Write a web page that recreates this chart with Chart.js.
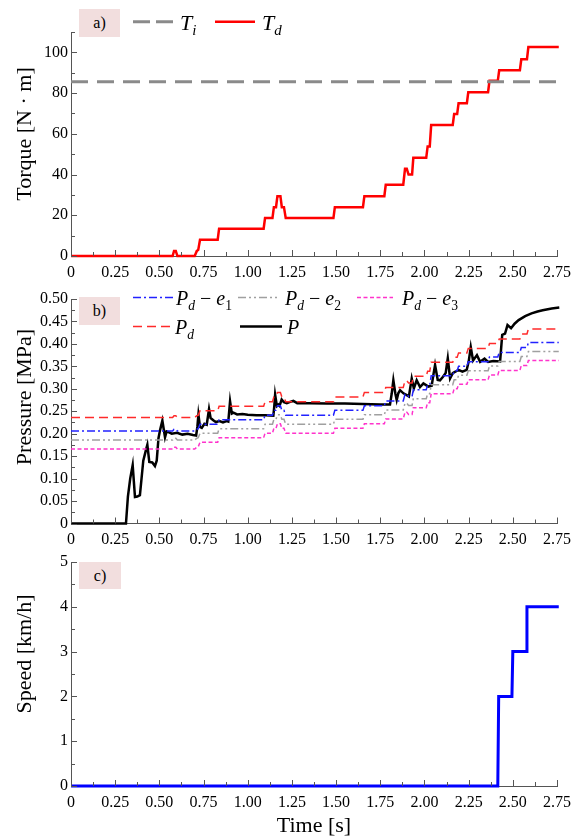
<!DOCTYPE html>
<html>
<head>
<meta charset="utf-8">
<script src="https://cdn.jsdelivr.net/npm/chart.js@4.4.0/dist/chart.umd.min.js"></script>
<style>
  body { margin: 0; background: #fff; }
  #page { position: relative; width: 579px; height: 840px; overflow: hidden; font-family: "Liberation Serif", "Times New Roman", serif; color: #000; }
  canvas { position: absolute; left: 0; }
  .tag { position: absolute; background: #f2dede; font-size: 16px; text-align: center; }
  .ytitle { position: absolute; font-size: 22px; white-space: nowrap; transform: translate(-50%, -50%) rotate(-90deg); }
  .leg { position: absolute; white-space: nowrap; line-height: 1; }
  .leg sub { font-size: 0.68em; vertical-align: -0.35em; line-height: 0; }
  #legsvg { position: absolute; left: 0; top: 0; }
</style>
</head>
<body>
<div id="page">
  <canvas id="chartA" width="579" height="292" style="top:0px"></canvas>
  <canvas id="chartB" width="579" height="265" style="top:285px"></canvas>
  <canvas id="chartC" width="579" height="292" style="top:548px"></canvas>

  <svg id="legsvg" width="579" height="840">
    <line x1="133" y1="21.7" x2="173" y2="21.7" stroke="#8a8a8a" stroke-width="3" stroke-dasharray="17,6"/>
    <line x1="215" y1="21.7" x2="255" y2="21.7" stroke="#ff0000" stroke-width="2.5"/>
    <line x1="133" y1="297.5" x2="176" y2="297.5" stroke="#2222ff" stroke-width="1.5" stroke-dasharray="8,3,2,3"/>
    <line x1="238" y1="297.5" x2="280" y2="297.5" stroke="#a0a0a0" stroke-width="1.5" stroke-dasharray="8,3,2,3,2,3"/>
    <line x1="357" y1="297.5" x2="393" y2="297.5" stroke="#ff33cc" stroke-width="1.5" stroke-dasharray="4,2.5"/>
    <line x1="133" y1="326.5" x2="173" y2="326.5" stroke="#ff2a2a" stroke-width="1.5" stroke-dasharray="9,5"/>
    <line x1="240" y1="326.5" x2="282" y2="326.5" stroke="#000000" stroke-width="2.5"/>
  </svg>

  <div class="tag" style="left:79px;top:9px;width:41px;height:28px;line-height:28px">a)</div>
  <div class="tag" style="left:79px;top:297px;width:41px;height:28px;line-height:28px">b)</div>
  <div class="tag" style="left:79px;top:562px;width:42px;height:27px;line-height:27px">c)</div>

  <div class="leg" style="left:180px;top:11.6px;font-size:22px"><i>T</i><sub><i>i</i></sub></div>
  <div class="leg" style="left:262px;top:11.6px;font-size:22px"><i>T</i><sub><i>d</i></sub></div>

  <div class="leg" style="left:176px;top:288.3px;font-size:20px"><i>P</i><sub><i>d</i></sub> &minus; <i>e</i><sub>1</sub></div>
  <div class="leg" style="left:285px;top:288.3px;font-size:20px"><i>P</i><sub><i>d</i></sub> &minus; <i>e</i><sub>2</sub></div>
  <div class="leg" style="left:402px;top:288.3px;font-size:20px"><i>P</i><sub><i>d</i></sub> &minus; <i>e</i><sub>3</sub></div>
  <div class="leg" style="left:175px;top:316.8px;font-size:20px"><i>P</i><sub><i>d</i></sub></div>
  <div class="leg" style="left:287px;top:316.8px;font-size:20px"><i>P</i></div>

  <div class="ytitle" style="left:24px;top:134px">Torque [N · m]</div>
  <div class="ytitle" style="left:24px;top:397px">Pressure [MPa]</div>
  <div class="ytitle" style="left:24px;top:654px">Speed [km/h]</div>
</div>

<script>
// a) torque
var tiTime = [0, 2.76];
var tiValue = [85.6, 85.6];

var stepTime = [0, 0.575, 0.583, 0.593, 0.602, 0.70, 0.712, 0.72, 0.73, 0.83, 0.838, 1.09, 1.098, 1.14, 1.148,
  1.16, 1.168, 1.185, 1.193, 1.205, 1.215, 1.485, 1.493, 1.652, 1.66, 1.773, 1.781, 1.88, 1.89, 1.90, 1.91,
  1.93, 1.937, 2.01, 2.018, 2.03, 2.038, 2.16, 2.168, 2.185, 2.193, 2.24, 2.248, 2.36, 2.368, 2.415, 2.423,
  2.54, 2.548, 2.58, 2.588, 2.76];
var tdValue = [0, 0, 2.5, 2.5, 0, 0, 2.5, 3, 8, 8, 13.4, 13.4, 18.6, 18.6, 24, 24, 29.4, 29.4, 24, 24, 18.6,
  18.6, 24, 24, 29.4, 29.4, 35, 35, 42.8, 42.8, 40, 40, 48.2, 48.2, 53.8, 53.8, 64.3, 64.3, 69.7, 69.7, 75,
  75, 80.4, 80.4, 86, 86, 91.2, 91.2, 96.6, 96.6, 102.6, 102.6];

// b) pressure
var pdValue = [0.236, 0.236, 0.240, 0.240, 0.236, 0.236, 0.240, 0.241, 0.251, 0.251, 0.261, 0.261, 0.271,
  0.271, 0.282, 0.282, 0.292, 0.292, 0.282, 0.282, 0.271, 0.271, 0.282, 0.282, 0.292, 0.292, 0.303, 0.303,
  0.318, 0.318, 0.313, 0.313, 0.328, 0.328, 0.339, 0.339, 0.359, 0.359, 0.370, 0.370, 0.380, 0.380, 0.390,
  0.390, 0.401, 0.401, 0.411, 0.411, 0.422, 0.422, 0.433, 0.433];
var pdE1Value = [0.206, 0.206, 0.210, 0.210, 0.206, 0.206, 0.210, 0.211, 0.221, 0.221, 0.231, 0.231, 0.241,
  0.241, 0.252, 0.252, 0.262, 0.262, 0.252, 0.252, 0.241, 0.241, 0.252, 0.252, 0.262, 0.262, 0.273, 0.273,
  0.288, 0.288, 0.283, 0.283, 0.298, 0.298, 0.309, 0.309, 0.329, 0.329, 0.340, 0.340, 0.350, 0.350, 0.360,
  0.360, 0.371, 0.371, 0.381, 0.381, 0.392, 0.392, 0.403, 0.403];
var pdE2Value = [0.186, 0.186, 0.190, 0.190, 0.186, 0.186, 0.190, 0.191, 0.201, 0.201, 0.211, 0.211, 0.221,
  0.221, 0.232, 0.232, 0.242, 0.242, 0.232, 0.232, 0.221, 0.221, 0.232, 0.232, 0.242, 0.242, 0.253, 0.253,
  0.268, 0.268, 0.263, 0.263, 0.278, 0.278, 0.289, 0.289, 0.309, 0.309, 0.320, 0.320, 0.330, 0.330, 0.340,
  0.340, 0.351, 0.351, 0.361, 0.361, 0.372, 0.372, 0.383, 0.383];
var pdE3Value = [0.166, 0.166, 0.170, 0.170, 0.166, 0.166, 0.170, 0.171, 0.181, 0.181, 0.191, 0.191, 0.201,
  0.201, 0.212, 0.212, 0.222, 0.222, 0.212, 0.212, 0.201, 0.201, 0.212, 0.212, 0.222, 0.222, 0.233, 0.233,
  0.248, 0.248, 0.243, 0.243, 0.258, 0.258, 0.269, 0.269, 0.289, 0.289, 0.300, 0.300, 0.310, 0.310, 0.320,
  0.320, 0.331, 0.331, 0.341, 0.341, 0.352, 0.352, 0.363, 0.363];

var pTime = [0, 0.311, 0.322, 0.335, 0.349, 0.362, 0.375, 0.39, 0.409, 0.425, 0.432, 0.443, 0.46, 0.475,
  0.485, 0.495, 0.504, 0.517, 0.532, 0.541, 0.555, 0.57, 0.6, 0.63, 0.66, 0.69, 0.708, 0.715, 0.721, 0.73,
  0.74, 0.755, 0.768, 0.781, 0.79, 0.805, 0.82, 0.84, 0.86, 0.88, 0.89, 0.9, 0.91, 0.919, 0.94, 0.97, 1.0,
  1.05, 1.1, 1.145, 1.15, 1.155, 1.165, 1.173, 1.18, 1.192, 1.205, 1.221, 1.24, 1.258, 1.28, 1.35, 1.45,
  1.55, 1.65, 1.75, 1.805, 1.815, 1.824, 1.835, 1.843, 1.852, 1.862, 1.881, 1.9, 1.912, 1.928, 1.94, 1.956,
  1.975, 1.994, 2.022, 2.041, 2.05, 2.06, 2.075, 2.088, 2.105, 2.12, 2.132, 2.145, 2.16, 2.175, 2.192,
  2.215, 2.239, 2.25, 2.262, 2.275, 2.297, 2.315, 2.34, 2.36, 2.39, 2.428, 2.44, 2.456, 2.47, 2.49, 2.51,
  2.533, 2.57, 2.606, 2.64, 2.669, 2.72, 2.763];
var pValue = [0, 0, 0.06, 0.10, 0.130, 0.059, 0.060, 0.063, 0.14, 0.165, 0.175, 0.137, 0.136, 0.128,
  0.14, 0.19, 0.208, 0.229, 0.192, 0.205, 0.203, 0.20, 0.202, 0.198, 0.20, 0.197, 0.196, 0.215, 0.242,
  0.215, 0.213, 0.222, 0.220, 0.255, 0.235, 0.230, 0.226, 0.228, 0.225, 0.228, 0.227, 0.272, 0.245, 0.247,
  0.243, 0.244, 0.242, 0.241, 0.241, 0.240, 0.26, 0.287, 0.262, 0.265, 0.262, 0.276, 0.27, 0.268, 0.271,
  0.273, 0.268, 0.268, 0.267, 0.267, 0.266, 0.265, 0.265, 0.29, 0.319, 0.29, 0.275, 0.29, 0.297, 0.29,
  0.286, 0.283, 0.323, 0.301, 0.319, 0.304, 0.312, 0.305, 0.307, 0.33, 0.353, 0.32, 0.319, 0.327, 0.335,
  0.368, 0.323, 0.335, 0.338, 0.342, 0.338, 0.342, 0.36, 0.393, 0.363, 0.375, 0.36, 0.367, 0.36, 0.362,
  0.361, 0.42, 0.423, 0.442, 0.435, 0.445, 0.453, 0.462, 0.468, 0.472, 0.475, 0.479, 0.481];

// c) speed
var speedTime = [0, 2.415, 2.42, 2.495, 2.50, 2.575, 2.58, 2.76];
var speedValue = [0, 0, 2, 2, 3, 3, 4, 4];

var FONT = '"Liberation Serif", "Times New Roman", serif';
var AXIS = '#555555';

function pts(xs, ys) {
  var out = [];
  for (var i = 0; i < xs.length; i++) out.push({x: xs[i], y: ys[i]});
  return out;
}

function line(data, color, width, dash) {
  return {
    data: data,
    borderColor: color,
    borderWidth: width,
    borderDash: dash || [],
    pointRadius: 0,
    tension: 0,
    fill: false,
    clip: 6
  };
}

// small tick marks drawn on the inside of the axes
var innerTicks = {
  id: 'innerTicks',
  afterDraw: function(chart, args, opts) {
    var ctx = chart.ctx, xs = chart.scales.x, ys = chart.scales.y, a = chart.chartArea;
    ctx.save();
    ctx.strokeStyle = AXIS;
    ctx.lineWidth = 1;
    ctx.beginPath();
    var n = Math.round((xs.max - xs.min) / opts.xStep);
    for (var i = 0; i <= n; i++) {
      var px = Math.round(xs.getPixelForValue(xs.min + i * opts.xStep)) + 0.5;
      ctx.moveTo(px, a.bottom);
      ctx.lineTo(px, a.bottom - (i % 2 === 0 ? 6 : 4));
    }
    n = Math.round((ys.max - ys.min) / opts.yStep);
    for (var j = 0; j <= n; j++) {
      var py = Math.round(ys.getPixelForValue(ys.min + j * opts.yStep)) + 0.5;
      ctx.moveTo(a.left, py);
      ctx.lineTo(a.left + (j % 2 === 0 ? 6 : 4), py);
    }
    ctx.stroke();
    ctx.restore();
  }
};

function makeChart(id, datasets, cfg) {
  var ctx = document.getElementById(id);
  var h = ctx.height;
  return new Chart(ctx, {
    type: 'line',
    data: {datasets: datasets},
    plugins: [innerTicks],
    options: {
      responsive: false,
      animation: false,
      events: [],
      layout: {padding: {left: 0, right: 22, top: cfg.top, bottom: 0}},
      plugins: {
        legend: {display: false},
        tooltip: {enabled: false},
        innerTicks: {xStep: 0.125, yStep: cfg.yMinor}
      },
      scales: {
        x: {
          type: 'linear',
          min: 0,
          max: 2.75,
          grid: {display: false, drawTicks: false},
          border: {display: true, color: AXIS, width: 1},
          ticks: {
            stepSize: 0.25,
            autoSkip: false,
            maxRotation: 0,
            padding: 7,
            color: '#000',
            font: {family: FONT, size: 16},
            callback: function(v) { return v === 0 ? '0' : v.toFixed(2); }
          },
          title: {
            display: !!cfg.xTitle,
            text: cfg.xTitle || '',
            color: '#000',
            font: {family: FONT, size: 22},
            padding: {top: 0, bottom: 1}
          },
          afterFit: function(s) { s.height = h - cfg.bottom; }
        },
        y: {
          type: 'linear',
          min: 0,
          max: cfg.yMax,
          grid: {display: false, drawTicks: false},
          border: {display: true, color: AXIS, width: 1},
          ticks: {
            stepSize: cfg.yStep,
            autoSkip: false,
            padding: 3,
            color: '#000',
            font: {family: FONT, size: 16},
            callback: cfg.yLabel
          },
          afterFit: function(s) { s.width = 71; }
        }
      }
    }
  });
}

makeChart('chartA', [
  line(pts(tiTime, tiValue), '#8a8a8a', 3, [17, 9]),
  line(pts(stepTime, tdValue), '#ff0000', 2.5)
], {
  top: 32, bottom: 256, yMax: 110, yStep: 20, yMinor: 10,
  yLabel: function(v) { return v > 100 ? '' : String(v); }
});

makeChart('chartB', [
  line(pts(stepTime, pdE3Value), '#ff33cc', 1.5, [4, 2.5]),
  line(pts(stepTime, pdE2Value), '#a0a0a0', 1.5, [8, 3, 2, 3, 2, 3]),
  line(pts(stepTime, pdE1Value), '#2222ff', 1.5, [8, 3, 2, 3]),
  line(pts(stepTime, pdValue), '#ff2a2a', 1.5, [9, 5]),
  line(pts(pTime, pValue), '#000000', 2.5)
], {
  top: 14, bottom: 238.5, yMax: 0.5, yStep: 0.05, yMinor: 0.025,
  yLabel: function(v) { return v === 0 ? '0' : v.toFixed(2); }
});

makeChart('chartC', [
  line(pts(speedTime, speedValue), '#0000ff', 3)
], {
  top: 14, bottom: 238, yMax: 5, yStep: 1, yMinor: 0.5,
  yLabel: function(v) { return String(v); },
  xTitle: 'Time [s]'
});
</script>
</body>
</html>
